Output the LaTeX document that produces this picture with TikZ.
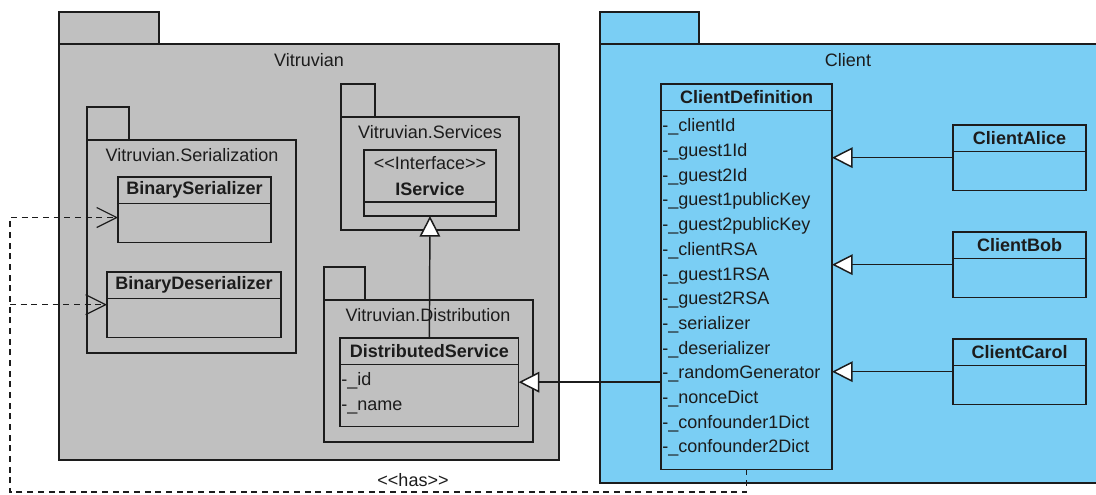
\documentclass[tikz,border=0pt]{standalone}
\usepackage{fontspec}
\setmainfont{Liberation Sans}[Ligatures=TeXOff]
\usetikzlibrary{positioning,arrows.meta,calc}
\definecolor{Ink}{RGB}{28,28,28}
\definecolor{Silver}{RGB}{192,192,192}
\definecolor{Sky}{RGB}{122,206,244}

\begin{document}
\begin{tikzpicture}[x=.75pt,y=-.75pt,
 pkg/.style={draw=Ink,line width=1.1pt},
 lbl/.style={inner sep=0pt,font=\fontsize{13.5}{16}\selectfont,text=Ink},
 hd/.style={draw=Ink,line width=1.1pt,inner sep=0pt,outer sep=0pt,anchor=north west,minimum height=19.75pt,font=\fontsize{13.5}{16}\selectfont\bfseries,text=Ink},
 bd/.style={draw=Ink,line width=1.1pt,inner sep=0pt,outer sep=0pt,minimum height=29.25pt},
 attr/.style={anchor=west,inner sep=0pt,text height=.72em,text depth=.22em,font=\fontsize{13.5}{16}\selectfont,text=Ink},
 gen/.style={draw=Ink,line width=1.1pt,-{Triangle[length=15.5pt,width=15.5pt,fill=white,line width=1.1pt]}},
 dep/.style={draw=Ink,line width=.9pt,dash pattern=on 4.5pt off 3.5pt,-{Straight Barb[length=15pt,width=15pt,line width=.9pt]}}]
\useasboundingbox (0,0) rectangle (1096,494);

% packages
\draw[pkg,fill=Silver] (59,12) rectangle (159,44);
\draw[pkg,fill=Silver] (59,44) rectangle (559,460);
\node[lbl] (vit) at (309,60) {Vitruvian};
\draw[pkg,fill=Silver] (87,107) rectangle (129,140);
\draw[pkg,fill=Silver] (87,140) rectangle (296,353);
\node[lbl] (ser) at (192,155) {Vitruvian.Serialization};
\draw[pkg,fill=Silver] (341,84) rectangle (375,117);
\draw[pkg,fill=Silver] (341,117) rectangle (519,230);
\node[lbl] (svc) at (430,132) {Vitruvian.Services};
\draw[pkg,fill=Silver] (324,267) rectangle (365,300);
\draw[pkg,fill=Silver] (324,300) rectangle (533,442);
\node[lbl] (dst) at (428,315) {Vitruvian.Distribution};
\draw[pkg,fill=Sky] (600,12) rectangle (699,44);
\draw[pkg,fill=Sky] (600,44) rectangle (1100,483);
\node[lbl] (cli) at (848,60) {Client};

% classes
\node[hd,minimum width=114.75pt] (bser) at (118,177) {BinarySerializer};
\node[bd,minimum width=114.75pt,below=0pt of bser] (bser-b) {};
\node[hd,minimum width=130.5pt] (bdes) at (107,272) {BinaryDeserializer};
\node[bd,minimum width=130.5pt,below=0pt of bdes] (bdes-b) {};
\node[hd,minimum width=99pt,minimum height=39pt,align=center,font=\fontsize{13.5}{19.5}\selectfont] (isvc) at (364,150) {<<Interface>>\\\bfseries IService};
\node[bd,minimum width=99pt,minimum height=10.5pt,below=0pt of isvc] (isvc-b) {};
\node[hd,minimum width=134pt] (dsvc) at (340,338) {DistributedService};
\node[bd,minimum width=134pt,minimum height=46.5pt,below=0pt of dsvc] (dsvc-b) {};
\node[attr] (dattr0) at (341,382) {-\_id};
\node[attr] (dattr1) at (341,407) {-\_name};
\node[hd,minimum width=128.25pt] (cdef) at (661,84) {ClientDefinition};
\node[bd,minimum width=128.25pt,minimum height=269.25pt,below=0pt of cdef] (cdef-b) {};
\foreach \a [count=\i from 0] in {-\_clientId,-\_guest1Id,-\_guest2Id,-\_guest1publicKey,-\_guest2publicKey,-\_clientRSA,-\_guest1RSA,-\_guest2RSA,-\_serializer,-\_deserializer,-\_randomGenerator,-\_nonceDict,-\_confounder1Dict,-\_confounder2Dict}
  \node[attr] (cattr\i) at (662,{128.5+24.7*\i}) {\a};
\node[hd,minimum width=99.75pt] (alice) at (953,125) {ClientAlice};
\node[bd,minimum width=99.75pt,below=0pt of alice] (alice-b) {};
\node[hd,minimum width=99.75pt] (bob) at (953,232) {ClientBob};
\node[bd,minimum width=99.75pt,below=0pt of bob] (bob-b) {};
\node[hd,minimum width=99.75pt] (carol) at (953,339) {ClientCarol};
\node[bd,minimum width=99.75pt,below=0pt of carol] (carol-b) {};

% generalizations
\draw[gen] (dsvc.north) -- (isvc-b.south);
\coordinate (dsvc-e) at ($(dsvc.north east)!.5!(dsvc-b.south east)$);
\draw[gen] (cdef-b.west |- dsvc-e) -- (dsvc-e);
\foreach \cl in {alice,bob,carol}{
  \coordinate (\cl-w) at ($(\cl.north west)!.5!(\cl-b.south west)$);
  \draw[gen] (\cl-w) -- (\cl-w -| cdef-b.east);
}

% <<has>>
\coordinate (hasc) at (10,492);
\coordinate (bdes-w) at ($(bdes.north west)!.5!(bdes-b.south west)$);
\draw[dep] (cdef-b.south) |- (hasc) |- ([yshift=4pt]bser-b.west);
\draw[dep] (hasc |- bdes-w) -- (bdes-w);
\node[lbl] (has) at (413,480) {<<has>>};
\end{tikzpicture}
\end{document}
